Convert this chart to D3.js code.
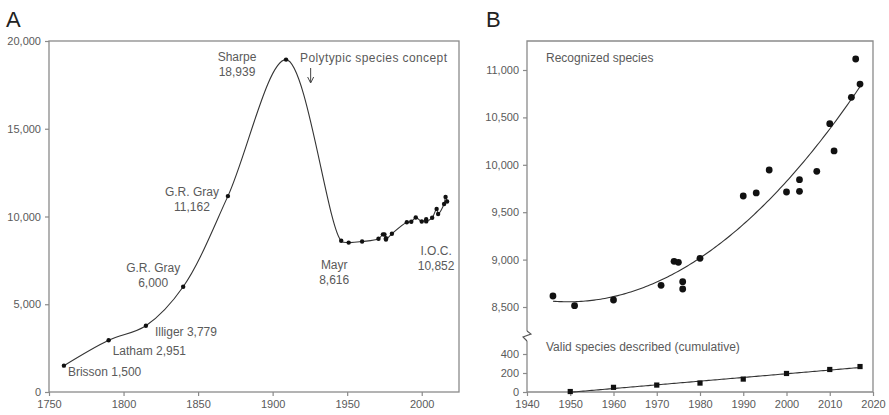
<!DOCTYPE html>
<html>
<head>
<meta charset="utf-8">
<script src="https://cdn.jsdelivr.net/npm/d3@7"></script>
<style>
  body { margin: 0; background: #fff; }
  svg text { font-family: Arial, "Liberation Sans", sans-serif; }
</style>
</head>
<body>
<div id="chart"></div>
<script>
// historical catalogues (panel A)
var historicYears = [1760, 1790, 1815, 1840, 1870, 1909]
var historicCounts = [1500, 2951, 3779, 6000, 11162, 18939]
var historicNames = ["Brisson 1,500", "Latham 2,951", "Illiger 3,779", "G.R. Gray|6,000", "G.R. Gray|11,162", "Sharpe|18,939"]

// recognized species since Mayr (panels A and B)
var recognizedYears = [1946, 1951, 1960, 1971, 1974, 1975, 1976, 1976, 1980, 1990, 1993, 1996, 2000, 2003, 2003, 2007, 2010, 2011, 2015, 2016, 2017]
var recognizedCounts = [8616, 8514, 8574, 8729, 8982, 8971, 8767, 8690, 9013, 9671, 9703, 9945, 9713, 9843, 9720, 9931, 10434, 10146, 10712, 11116, 10852]

// valid species described, cumulative (panel B)
var describedYears = [1950, 1960, 1970, 1980, 1990, 2000, 2010, 2017]
var describedCounts = [5, 49, 73, 94, 136, 195, 237, 268]

var ticksA_x = [1750, 1800, 1850, 1900, 1950, 2000]
var ticksA_y = [0, 5000, 10000, 15000, 20000]
var ticksB_x = [1940, 1950, 1960, 1970, 1980, 1990, 2000, 2010, 2020]
var ticksB_yUp = [8500, 9000, 9500, 10000, 10500, 11000]
var ticksB_yLow = [0, 200, 400]

var W = 889, H = 415
var frameColor = "#8a8a8a", textColor = "#5a5a5a", lineColor = "#333"

var svg = d3.select("#chart").append("svg")
    .attr("width", W)
    .attr("height", H)

var fmt = d3.format(",")

function txt(g, x, y, s, anchor, size) {
    return g.append("text")
        .attr("x", x).attr("y", y)
        .attr("text-anchor", anchor || "start")
        .attr("font-size", size || 12)
        .attr("fill", textColor)
        .text(s)
}

// ---------------- Panel A ----------------
var xA = d3.scaleLinear().domain([1750, 2025]).range([49, 459])
var yA = d3.scaleLinear().domain([0, 20000]).range([392, 41])
var gA = svg.append("g")

gA.append("rect")
    .attr("x", xA.range()[0]).attr("y", yA.range()[1])
    .attr("width", xA.range()[1] - xA.range()[0])
    .attr("height", yA.range()[0] - yA.range()[1])
    .attr("fill", "none").attr("stroke", frameColor).attr("stroke-width", 1.3)

gA.append("g")
    .attr("transform", "translate(0," + yA.range()[0] + ")")
    .call(d3.axisBottom(xA).tickValues(ticksA_x).tickSize(4).tickSizeOuter(0).tickPadding(4).tickFormat(d3.format("d")))
gA.append("g")
    .attr("transform", "translate(" + xA.range()[0] + ",0)")
    .call(d3.axisLeft(yA).tickValues(ticksA_y).tickSize(4).tickSizeOuter(0).tickPadding(4).tickFormat(fmt))

var ptsA = historicYears.map(function (d, i) { return [d, historicCounts[i]] })
    .concat(recognizedYears.map(function (d, i) { return [d, recognizedCounts[i]] }))

gA.append("path")
    .datum(ptsA)
    .attr("fill", "none")
    .attr("stroke", lineColor)
    .attr("stroke-width", 1.1)
    .attr("d", d3.line()
        .x(function (d) { return xA(d[0]) })
        .y(function (d) { return yA(d[1]) })
        .curve(d3.curveCatmullRom.alpha(0.5)))

gA.selectAll(".dotA")
    .data(ptsA)
    .enter()
    .append("circle")
    .attr("cx", function (d) { return xA(d[0]) })
    .attr("cy", function (d) { return yA(d[1]) })
    .attr("r", 2.2)
    .attr("fill", "#111")

// labels for the catalogues
var labelOffsets = [[4, 10, "start"], [4, 15, "start"], [9, 10, "start"], [-30, -15, "middle"], [-36, 0, "middle"], [-49, 1, "middle"]]
historicNames.forEach(function (name, i) {
    var px = xA(historicYears[i]) + labelOffsets[i][0]
    var py = yA(historicCounts[i]) + labelOffsets[i][1]
    var lines = name.split("|")
    lines.forEach(function (l, j) {
        txt(gA, px, py + j * 15, l, labelOffsets[i][2])
    })
})
txt(gA, xA(1946) - 7, yA(8616) + 28, "Mayr", "middle")
txt(gA, xA(1946) - 7, yA(8616) + 43, "8,616", "middle")
txt(gA, xA(2017) - 11, 255, "I.O.C.", "middle")
txt(gA, xA(2017) - 11, 270, "10,852", "middle")

txt(gA, 300, 62, "Polytypic species concept", "start").attr("letter-spacing", 0.4)
var arrX = xA(1925.5)
gA.append("line")
    .attr("x1", arrX).attr("x2", arrX).attr("y1", 68).attr("y2", 82)
    .attr("stroke", "#444").attr("stroke-width", 1)
gA.append("path")
    .attr("d", "M" + (arrX - 3) + ",77 L" + arrX + ",83 L" + (arrX + 3) + ",77")
    .attr("fill", "none").attr("stroke", "#444").attr("stroke-width", 1)

txt(gA, 6, 27, "A", "start", 22).attr("fill", "#222")

// ---------------- Panel B ----------------
var xB = d3.scaleLinear().domain([1940, 2020]).range([527, 873])
var yUp = d3.scaleLinear().domain([8500, 11000]).range([307, 70])
var yLow = d3.scaleLinear().domain([0, 400]).range([392, 354])
var gB = svg.append("g")
var topB = 41, botB = 392, breakY = 331

// frame with broken left side
gB.append("path")
    .attr("d", "M" + xB.range()[0] + "," + breakY + " V" + topB + " H" + xB.range()[1] + " V" + botB + " H" + xB.range()[0] + " V" + (breakY + 10))
    .attr("fill", "none").attr("stroke", frameColor).attr("stroke-width", 1.3)
var bx = xB.range()[0]
gB.append("path")
    .attr("d", "M" + bx + "," + breakY + " L" + (bx + 4) + "," + (breakY + 3) + " L" + (bx - 4) + "," + (breakY + 6) + " L" + bx + "," + (breakY + 10))
    .attr("fill", "none").attr("stroke", "#555").attr("stroke-width", 1.1)

gB.append("g")
    .attr("transform", "translate(0," + botB + ")")
    .call(d3.axisBottom(xB).tickValues(ticksB_x).tickSize(4).tickSizeOuter(0).tickPadding(4).tickFormat(d3.format("d")))
gB.append("g")
    .attr("transform", "translate(" + bx + ",0)")
    .call(d3.axisLeft(yUp).tickValues(ticksB_yUp).tickSize(4).tickSizeOuter(0).tickPadding(4).tickFormat(fmt))
gB.append("g")
    .attr("transform", "translate(" + bx + ",0)")
    .call(d3.axisLeft(yLow).tickValues(ticksB_yLow).tickSize(4).tickSizeOuter(0).tickPadding(4).tickFormat(fmt))

// least-squares fits drawn through the data
function polyFit(xs, ys, deg) {
    var n = deg + 1, m = xs.length, x0 = d3.mean(xs)
    var A = [], b = []
    for (var r = 0; r < n; r++) {
        A.push([]); b.push(0)
        for (var c = 0; c < n; c++) A[r].push(0)
    }
    for (var k = 0; k < m; k++) {
        var t = xs[k] - x0
        for (var r2 = 0; r2 < n; r2++) {
            b[r2] += ys[k] * Math.pow(t, r2)
            for (var c2 = 0; c2 < n; c2++) A[r2][c2] += Math.pow(t, r2 + c2)
        }
    }
    for (var i = 0; i < n; i++) {
        for (var j = i + 1; j < n; j++) {
            var f = A[j][i] / A[i][i]
            for (var q = i; q < n; q++) A[j][q] -= f * A[i][q]
            b[j] -= f * b[i]
        }
    }
    var coef = new Array(n)
    for (var i2 = n - 1; i2 >= 0; i2--) {
        var s = b[i2]
        for (var j2 = i2 + 1; j2 < n; j2++) s -= A[i2][j2] * coef[j2]
        coef[i2] = s / A[i2][i2]
    }
    return function (x) {
        var t = x - x0, v = 0
        for (var p = 0; p < n; p++) v += coef[p] * Math.pow(t, p)
        return v
    }
}

var fitUp = polyFit(recognizedYears, recognizedCounts, 2)
var fitLow = polyFit(describedYears, describedCounts, 1)
var lineUp = d3.range(recognizedYears[0], d3.max(recognizedYears) + 0.01, 0.5)
var lineLow = d3.range(describedYears[0], d3.max(describedYears) + 0.01, 0.5)

gB.append("path")
    .datum(lineUp)
    .attr("fill", "none").attr("stroke", lineColor).attr("stroke-width", 1.1)
    .attr("d", d3.line().x(function (d) { return xB(d) }).y(function (d) { return yUp(fitUp(d)) }))
gB.append("path")
    .datum(lineLow)
    .attr("fill", "none").attr("stroke", lineColor).attr("stroke-width", 1.1)
    .attr("d", d3.line().x(function (d) { return xB(d) }).y(function (d) { return Math.min(yLow(fitLow(d)), botB) }))

gB.selectAll(".dotB")
    .data(recognizedYears)
    .enter()
    .append("circle")
    .attr("cx", function (d) { return xB(d) })
    .attr("cy", function (d, i) { return yUp(recognizedCounts[i]) })
    .attr("r", 3.4)
    .attr("fill", "#111")

gB.selectAll(".sqB")
    .data(describedYears)
    .enter()
    .append("rect")
    .attr("x", function (d) { return xB(d) - 2.6 })
    .attr("y", function (d, i) { return yLow(describedCounts[i]) - 2.6 })
    .attr("width", 5.2).attr("height", 5.2)
    .attr("fill", "#111")

txt(gB, 546, 62, "Recognized species", "start")
txt(gB, 546, 351, "Valid species described (cumulative)", "start")
txt(gB, 486, 27, "B", "start", 22).attr("fill", "#222")

// axis styling
svg.selectAll(".domain").remove()
svg.selectAll(".tick line").attr("stroke", frameColor).attr("stroke-width", 1.2)
svg.selectAll(".tick text").attr("fill", textColor).attr("font-size", 11)
</script>
</body>
</html>
